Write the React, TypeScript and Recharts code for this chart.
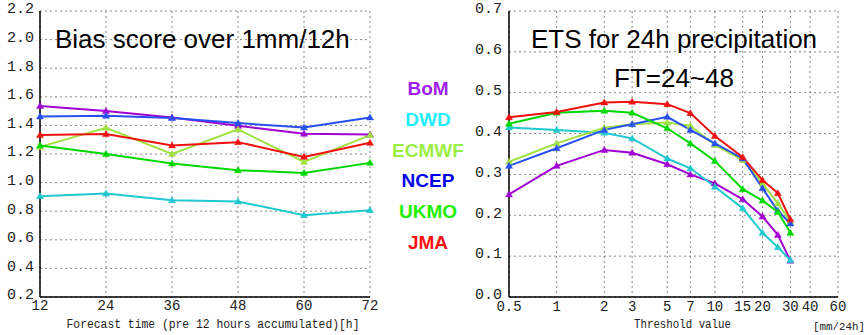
import { LineChart, Line, XAxis, YAxis, CartesianGrid } from 'recharts';

const HOURS = [12, 24, 36, 48, 60, 72];
const BIAS_BOM = [1.535, 1.5, 1.456, 1.397, 1.342, 1.336];
const BIAS_DWD = [0.905, 0.923, 0.877, 0.868, 0.772, 0.807];
const BIAS_ECMWF = [1.25, 1.383, 1.2, 1.372, 1.145, 1.332];
const BIAS_NCEP = [1.463, 1.467, 1.451, 1.416, 1.386, 1.456];
const BIAS_UKMO = [1.26, 1.2, 1.134, 1.087, 1.068, 1.138];
const BIAS_JMA = [1.332, 1.339, 1.26, 1.283, 1.18, 1.278];
const BIAS_TICKS = [0.2, 0.4, 0.6, 0.8, 1.0, 1.2, 1.4, 1.6, 1.8, 2.0, 2.2];

const THRESHOLDS = [0.5, 1, 2, 3, 5, 7, 10, 15, 20, 25, 30];
const ETS_BOM = [0.251, 0.321, 0.36, 0.353, 0.325, 0.3, 0.278, 0.239, 0.197, 0.152, 0.089];
const ETS_DWD = [0.415, 0.409, 0.402, 0.388, 0.339, 0.315, 0.27, 0.217, 0.157, 0.122, 0.09];
const ETS_ECMWF = [0.331, 0.376, 0.414, 0.423, 0.427, 0.419, 0.372, 0.335, 0.278, 0.229, 0.185];
const ETS_NCEP = [0.321, 0.364, 0.409, 0.423, 0.441, 0.409, 0.376, 0.339, 0.266, 0.211, 0.18];
const ETS_UKMO = [0.424, 0.451, 0.456, 0.451, 0.413, 0.376, 0.333, 0.264, 0.236, 0.208, 0.157];
const ETS_JMA = [0.44, 0.453, 0.476, 0.478, 0.472, 0.45, 0.394, 0.342, 0.286, 0.254, 0.19];
const ETS_TICKS = [0, 0.1, 0.2, 0.3, 0.4, 0.5, 0.6, 0.7];
const THRESHOLD_TICKS = [0.5, 1, 2, 3, 5, 7, 10, 15, 20, 30, 40, 60];

const MODELS = [
  { key: 'BoM', line: '#a000d0', text: '#a020f0' },
  { key: 'DWD', line: '#20c8d0', text: '#22eeff' },
  { key: 'ECMWF', line: '#a0e040', text: '#99ee44' },
  { key: 'NCEP', line: '#2850f0', text: '#0000ee' },
  { key: 'UKMO', line: '#00d800', text: '#22ee00' },
  { key: 'JMA', line: '#f01010', text: '#ff1010' },
];

const biasData = HOURS.map((h, i) => ({
  h,
  BoM: BIAS_BOM[i],
  DWD: BIAS_DWD[i],
  ECMWF: BIAS_ECMWF[i],
  NCEP: BIAS_NCEP[i],
  UKMO: BIAS_UKMO[i],
  JMA: BIAS_JMA[i],
}));

const etsData = THRESHOLDS.map((t, i) => ({
  t,
  BoM: ETS_BOM[i],
  DWD: ETS_DWD[i],
  ECMWF: ETS_ECMWF[i],
  NCEP: ETS_NCEP[i],
  UKMO: ETS_UKMO[i],
  JMA: ETS_JMA[i],
}));

const tickFont = { fill: '#222', fontSize: 15, fontFamily: 'Liberation Mono' };
const xTickFont = { ...tickFont, fontSize: 14 };
const yTickFont = { ...tickFont, dy: -3 };
const frame = { stroke: '#000', strokeWidth: 1.5 };

function Triangle(props: any) {
  const { cx, cy, stroke } = props;
  if (cx == null || cy == null) return null;
  return (
    <polygon
      points={`${cx},${cy - 3.5} ${cx - 3.5},${cy + 2.5} ${cx + 3.5},${cy + 2.5}`}
      fill={stroke}
      stroke={stroke}
      strokeWidth={0.5}
    />
  );
}

function AxisText({ viewBox, text, dx, width, unit }: any) {
  const x = viewBox.x + viewBox.width / 2 + (dx ?? 0);
  const y = viewBox.y + 31;
  return (
    <g>
      <text
        x={x}
        y={y}
        textAnchor="middle"
        fontFamily="Liberation Mono"
        fontSize={12}
        fill="#222"
        textLength={width}
        lengthAdjust="spacingAndGlyphs"
      >
        {text}
      </text>
      {unit && (
        <text
          x={viewBox.x + viewBox.width + 27}
          y={viewBox.y + 33}
          textAnchor="end"
          fontFamily="Liberation Mono"
          fontSize={10}
          fill="#222"
          textLength={52}
          lengthAdjust="spacingAndGlyphs"
        >
          {unit}
        </text>
      )}
    </g>
  );
}

const titleStyle: React.CSSProperties = {
  position: 'absolute',
  fontFamily: 'Liberation Sans',
  color: '#000',
  whiteSpace: 'nowrap',
  textAlign: 'center',
};

export default function App() {
  return (
    <div style={{ position: 'absolute', left: 0, top: 0, width: 868, height: 335, background: '#fff', overflow: 'hidden' }}>
      <div style={{ position: 'absolute', left: 0, top: 0 }}>
        <LineChart width={380} height={335} data={biasData} margin={{ top: 11, right: 10, left: 0, bottom: 0 }}>
          <CartesianGrid stroke="#888" strokeDasharray="2 3" />
          <XAxis
            dataKey="h"
            type="number"
            domain={[12, 72]}
            ticks={HOURS}
            height={38}
            tick={xTickFont}
            tickLine={false}
            tickSize={1}
            axisLine={frame}
            label={<AxisText text="Forecast time (pre 12 hours accumulated)[h]" dx={8} width={293} />}
          />
          <XAxis xAxisId="top" dataKey="h" type="number" domain={[12, 72]} orientation="top" height={0} tick={false} tickLine={false} axisLine={frame} />
          <YAxis
            type="number"
            domain={[0.2, 2.2]}
            ticks={BIAS_TICKS}
            width={40}
            tick={yTickFont}
            tickFormatter={(v: number) => v.toFixed(1)}
            tickLine={false}
            tickSize={4}
            axisLine={frame}
            interval={0}
          />
          <YAxis yAxisId="right" orientation="right" type="number" domain={[0.2, 2.2]} width={0} tick={false} tickLine={false} axisLine={frame} />
          {MODELS.map((m) => (
            <Line
              key={m.key}
              dataKey={m.key}
              stroke={m.line}
              strokeWidth={2}
              dot={<Triangle />}
              isAnimationActive={false}
            />
          ))}
        </LineChart>
      </div>

      <div style={{ position: 'absolute', left: 468, top: 0 }}>
        <LineChart width={400} height={335} data={etsData} margin={{ top: 11, right: 30, left: 0, bottom: 0 }}>
          <CartesianGrid stroke="#888" strokeDasharray="2 3" />
          <XAxis
            dataKey="t"
            type="number"
            scale="log"
            domain={[0.5, 60]}
            ticks={THRESHOLD_TICKS}
            height={38}
            tick={xTickFont}
            tickLine={false}
            tickSize={2}
            axisLine={frame}
            interval={0}
            label={<AxisText text="Threshold value" dx={9} width={97} unit="[mm/24h]" />}
          />
          <XAxis xAxisId="top" dataKey="t" type="number" scale="log" domain={[0.5, 60]} orientation="top" height={0} tick={false} tickLine={false} axisLine={frame} />
          <YAxis
            type="number"
            domain={[0, 0.7]}
            ticks={ETS_TICKS}
            width={41}
            tick={yTickFont}
            tickFormatter={(v: number) => v.toFixed(1)}
            tickLine={false}
            tickSize={5}
            axisLine={frame}
            interval={0}
          />
          <YAxis yAxisId="right" orientation="right" type="number" domain={[0, 0.7]} width={0} tick={false} tickLine={false} axisLine={frame} />
          {MODELS.map((m) => (
            <Line
              key={m.key}
              dataKey={m.key}
              stroke={m.line}
              strokeWidth={2}
              dot={<Triangle />}
              isAnimationActive={false}
            />
          ))}
        </LineChart>
      </div>

      <div style={{ ...titleStyle, left: 55, top: 24, fontSize: 26, lineHeight: '30px' }}>Bias score over 1mm/12h</div>
      <div style={{ ...titleStyle, left: 524, top: 24, width: 300, fontSize: 26, lineHeight: '30px' }}>ETS for 24h precipitation</div>
      <div style={{ ...titleStyle, left: 524, top: 63, width: 300, fontSize: 26, lineHeight: '30px' }}>FT=24~48</div>

      {MODELS.map((m, i) => (
        <div
          key={m.key}
          style={{
            ...titleStyle,
            left: 378,
            width: 100,
            top: 78 + i * 30.8,
            fontSize: 19,
            lineHeight: '22px',
            fontWeight: 'bold',
            color: m.text,
          }}
        >
          {m.key}
        </div>
      ))}
    </div>
  );
}
